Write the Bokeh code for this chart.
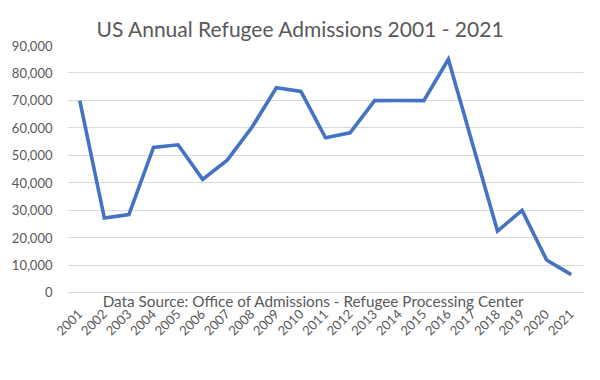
import math
from bokeh.plotting import figure
from bokeh.models import Range1d, FactorRange, Label, NumeralTickFormatter, FixedTicker
from bokeh.embed import file_html
from bokeh.resources import INLINE

years = [str(y) for y in range(2001, 2022)]
admissions = [69886, 27131, 28422, 52873, 53813, 41223, 48218, 60107, 74602, 73293,
              56384, 58179, 69909, 69975, 69920, 84994, 53691, 22405, 29916, 11814, 6500]
y_ticks = [0, 10000, 20000, 30000, 40000, 50000, 60000, 70000, 80000, 90000]

title_text = "US Annual Refugee Admissions 2001 - 2021"
source_text = "Data Source: Office of Admissions - Refugee Processing Center"

FONT = "Lato"
GREY = "#595959"

# frame extends a little below 0 so the source note sits inside it
p = figure(width=600, height=380, x_range=FactorRange(*years),
           y_range=Range1d(-8745, 90000), output_backend="svg", toolbar_location=None,
           min_border_left=67, min_border_right=17, min_border_top=45, min_border_bottom=64)

p.line(years, admissions, line_color="#4472C4", line_width=3.6, line_join="miter")

p.title.text = title_text
p.title.align = "left"
p.title.text_font = FONT
p.title.text_font_size = "21px"
p.title.text_font_style = "normal"
p.title.text_color = GREY
p.title.offset = 29

p.yaxis.ticker = FixedTicker(ticks=y_ticks)
p.yaxis.formatter = NumeralTickFormatter(format="0,0")
for ax in (p.xaxis, p.yaxis):
    ax.axis_line_color = None
    ax.major_tick_line_color = None
    ax.minor_tick_line_color = None
    ax.major_label_text_font = FONT
    ax.major_label_text_font_size = "13px"
    ax.major_label_text_color = GREY
p.yaxis.major_label_standoff = 9
p.xaxis.major_label_orientation = math.pi / 4
p.xaxis.major_label_standoff = -11

p.xgrid.grid_line_color = None
p.ygrid.grid_line_color = "#D9D9D9"
p.ygrid.grid_line_width = 1
p.outline_line_color = None
p.background_fill_color = None
p.background_fill_alpha = 0
p.border_fill_color = "white"

p.add_layout(Label(x=246, y=16, x_units="screen", y_units="screen", text=source_text,
                   text_align="center", text_baseline="middle", text_font=FONT,
                   text_font_size="15.3px", text_color=GREY))

open("out.html", "w").write(file_html(p, INLINE))
